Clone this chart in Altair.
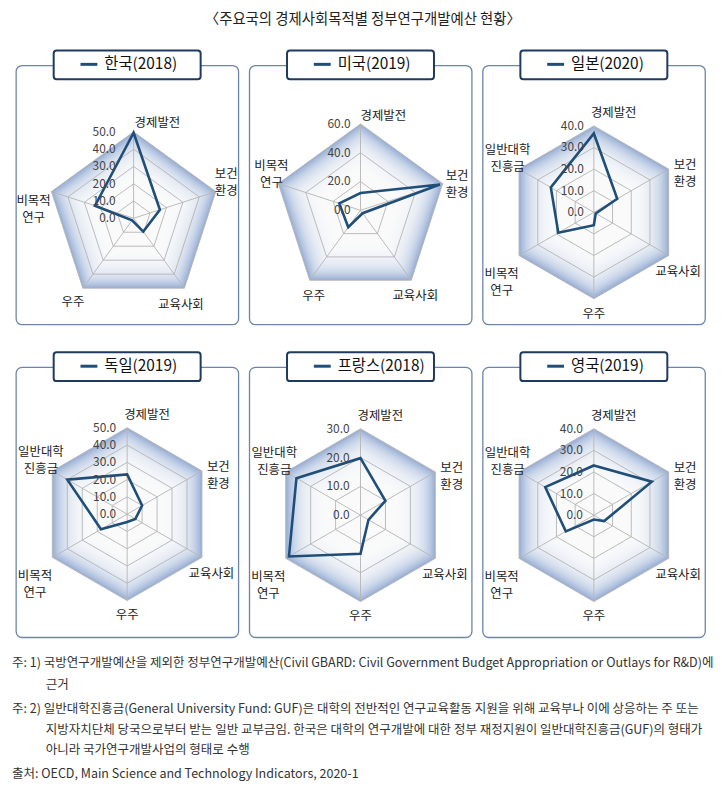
import math
import altair as alt
import pandas as pd

# ---------------- data ----------------
TITLE = "〈주요국의 경제사회목적별 정부연구개발예산 현황〉"

AXES5 = ["경제발전", "보건\n환경", "교육사회", "우주", "비목적\n연구"]
AXES6 = ["경제발전", "보건\n환경", "교육사회", "우주", "비목적\n연구", "일반대학\n진흥금"]

COUNTRIES = ["한국(2018)", "미국(2019)", "일본(2020)", "독일(2019)", "프랑스(2018)", "영국(2019)"]

KOREA = [49.5, 16.0, 9.5, 1.5, 23.5]
USA = [12.0, 58.0, 2.5, 14.5, 15.5]
JAPAN = [36.5, 12.5, 1.0, 6.0, 19.0, 23.0]
GERMANY = [23.0, 10.0, 5.5, 4.5, 17.5, 40.0]
FRANCE = [19.8, 10.0, 3.2, 13.4, 28.7, 25.7]
UK = [23.0, 31.0, 5.5, 2.0, 15.0, 26.0]

TICKS_KR = [0, 10, 20, 30, 40, 50]
TICKS_US = [0, 20, 40, 60]
TICKS_JP = [0, 10, 20, 30, 40]
TICKS_DE = [0, 10, 20, 30, 40, 50]
TICKS_FR = [0, 10, 20, 30]
TICKS_UK = [0, 10, 20, 30, 40]

NOTES_FIRST = [
    "주: 1) 국방연구개발예산을 제외한 정부연구개발예산(Civil GBARD: Civil Government Budget Appropriation or Outlays for R&D)에",
    "주: 2) 일반대학진흥금(General University Fund: GUF)은 대학의 전반적인 연구교육활동 지원을 위해 교육부나 이에 상응하는 주 또는",
    "출처: OECD, Main Science and Technology Indicators, 2020-1",
]
NOTES_CONT = [
    "근거",
    "지방자치단체 당국으로부터 받는 일반 교부금임. 한국은 대학의 연구개발에 대한 정부 재정지원이 일반대학진흥금(GUF)의 형태가",
    "아니라 국가연구개발사업의 형태로 수행",
]

# ---------------- layout / style ----------------
FONT = "Noto Sans CJK KR"
U = 87.0            # px per unit radius
W = 224
H1, H2 = 261, 272
NAVY = "#1f4e79"
BOXNAVY = "#1e3a5f"
GRID = "#b4b4b4"
BLUE = "#9cb1d6"
SHADE_STEP = 0.025
SHADE_N = 24
SHADE_ALPHA = 0.15

PENT_OFF_KR = [(24, 9), (10.5, 17.5), (-3.5, -17), (-10, -14), (-18, -9.5)]
PENT_OFF_US = [(23, 8), (14.5, 7.4), (4, -16.4), (4, -16.4), (-7, 17.4)]
HEX_OFF = [(20, 12.5), (16.5, 4), (9.5, -16.5), (0, -15), (-17.5, -19), (-11.5, 19)]


def panel(title, cats, vals, ticks, cy, cx_off, height, offsets, tick_dx):
    n = len(cats)
    vmax = float(ticks[-1])
    xs = alt.Scale(domain=[(-W / 2 - cx_off) / U, (W / 2 - cx_off) / U], nice=False, zero=False)
    ys = alt.Scale(domain=[-(height - cy) / U, cy / U], nice=False, zero=False)
    X = alt.X("x:Q", scale=xs, axis=None)
    Y = alt.Y("y:Q", scale=ys, axis=None)
    sx = f"sin(2*PI*datum.idx/{n})"
    cyx = f"cos(2*PI*datum.idx/{n})"

    base_df = pd.DataFrame({"idx": list(range(n)), "lv": [1.0] * n})
    shade_levels = [1 - SHADE_STEP * k for k in range(1, SHADE_N + 1)]
    shade_df = pd.DataFrame([{"lv": lv, "idx": i} for lv in shade_levels for i in range(n)])
    ring_df = pd.DataFrame([{"lv": t / vmax, "idx": i} for t in ticks[1:] for i in range(n)])
    data_df = pd.DataFrame({"cat": cats, "value": vals, "idx": list(range(n))})
    tick_df = pd.DataFrame({"v": ticks, "lab": [f"{t:.1f}" for t in ticks]})
    lab_df = pd.DataFrame({
        "cat": cats,
        "idx": list(range(n)),
        "ox": [o[0] / U for o in offsets],
        "oy": [o[1] / U for o in offsets],
    })

    def poly(df):
        return alt.Chart(df).transform_calculate(
            x=f"datum.lv*{sx}", y=f"datum.lv*{cyx}"
        )

    base = poly(base_df).mark_line(
        interpolate="linear-closed", fill=BLUE, strokeOpacity=0
    ).encode(x=X, y=Y, order="idx:Q")

    shade = poly(shade_df).mark_line(
        interpolate="linear-closed", fill="white", fillOpacity=SHADE_ALPHA, strokeOpacity=0
    ).encode(x=X, y=Y, order="idx:Q", detail="lv:N")

    rings = poly(ring_df).mark_line(
        interpolate="linear-closed", color=GRID, strokeWidth=0.9
    ).encode(x=X, y=Y, order="idx:Q", detail="lv:N")

    spokes = alt.Chart(base_df).transform_calculate(
        x=sx, y=cyx, x0="0", y0="0"
    ).mark_rule(color=GRID, strokeWidth=0.9).encode(x=X, y=Y, x2="x0:Q", y2="y0:Q")

    line = alt.Chart(data_df).transform_calculate(
        x=f"datum.value/{vmax}*{sx}", y=f"datum.value/{vmax}*{cyx}"
    ).mark_line(
        interpolate="linear-closed", color=NAVY, strokeWidth=2.6, strokeJoin="miter"
    ).encode(x=X, y=Y, order="idx:Q")

    tlabels = alt.Chart(tick_df).transform_calculate(
        x="0", y=f"datum.v/{vmax}"
    ).mark_text(
        align="right", baseline="middle", dx=tick_dx, font=FONT, fontSize=12, color="#444"
    ).encode(x=X, y=Y, text="lab:N")

    clabels = alt.Chart(lab_df).transform_calculate(
        x=f"{sx}+datum.ox", y=f"{cyx}+datum.oy"
    ).mark_text(
        align="center", baseline="middle", lineBreak="\n", font=FONT, fontSize=12.5,
        color="#222", lineHeight=17
    ).encode(x=X, y=Y, text="cat:N")

    tdf = pd.DataFrame({"t": [title]})
    box = alt.Chart(tdf).mark_rect(
        fill="white", stroke=BOXNAVY, strokeWidth=2, cornerRadius=3
    ).encode(
        x=alt.value(W / 2 - 74), x2=alt.value(W / 2 + 74),
        y=alt.value(-15), y2=alt.value(14)
    )
    leg = alt.Chart(tdf).mark_rule(color=NAVY, strokeWidth=3).encode(
        x=alt.value(W / 2 - 47), x2=alt.value(W / 2 - 30), y=alt.value(-1)
    )
    ttext = alt.Chart(tdf).mark_text(
        align="left", baseline="middle", font=FONT, fontSize=15.5, color="#111"
    ).encode(x=alt.value(W / 2 - 23), y=alt.value(-1), text="t:N")

    return alt.layer(
        base, shade, rings, spokes, line, tlabels, clabels, box, leg, ttext
    ).properties(width=W, height=height)


p1 = panel(COUNTRIES[0], AXES5, KOREA, TICKS_KR, 154, 6.5, H1, PENT_OFF_KR, -18)
p2 = panel(COUNTRIES[1], AXES5, USA, TICKS_US, 146, 0, H1, PENT_OFF_US, -10)
p3 = panel(COUNTRIES[2], AXES6, JAPAN, TICKS_JP, 148, 0, H1, HEX_OFF, -10)
p4 = panel(COUNTRIES[3], AXES6, GERMANY, TICKS_DE, 148, 0, H2, HEX_OFF, -11)
p5 = panel(COUNTRIES[4], AXES6, FRANCE, TICKS_FR, 149, 0, H2, HEX_OFF, -11)
p6 = panel(COUNTRIES[5], AXES6, UK, TICKS_UK, 149, 0, H2, HEX_OFF, -11)

row1 = alt.hconcat(p1, p2, p3, spacing=9)
row2 = alt.hconcat(p4, p5, p6, spacing=9)
grid = alt.vconcat(row1, row2, spacing=25)

# footnotes
first_y = [15, 61, 127]
cont_y = [37, 82, 103]
note_layers = []
for txt, yy in zip(NOTES_FIRST, first_y):
    note_layers.append(
        alt.Chart(pd.DataFrame({"t": [txt]})).mark_text(
            align="left", baseline="middle", font=FONT, fontSize=12.6, color="#333"
        ).encode(x=alt.value(-4), y=alt.value(yy), text="t:N")
    )
for txt, yy in zip(NOTES_CONT, cont_y):
    note_layers.append(
        alt.Chart(pd.DataFrame({"t": [txt]})).mark_text(
            align="left", baseline="middle", font=FONT, fontSize=12.6, color="#333"
        ).encode(x=alt.value(30), y=alt.value(yy), text="t:N")
    )
notes = alt.layer(*note_layers).properties(
    width=3 * W + 18, height=135, view=alt.ViewBackground(strokeOpacity=0)
)

chart = alt.vconcat(grid, notes, spacing=10).properties(
    title=alt.TitleParams(
        TITLE, font=FONT, fontSize=14.5, fontWeight="normal", color="#222",
        anchor="middle", offset=21
    ),
    padding={"left": 4, "top": 1, "right": 0, "bottom": 0},
).configure_view(
    stroke="#6b86a8", strokeWidth=1.3, cornerRadius=6
)

chart.save("out.html", embed_options={"renderer": "svg", "actions": False})
